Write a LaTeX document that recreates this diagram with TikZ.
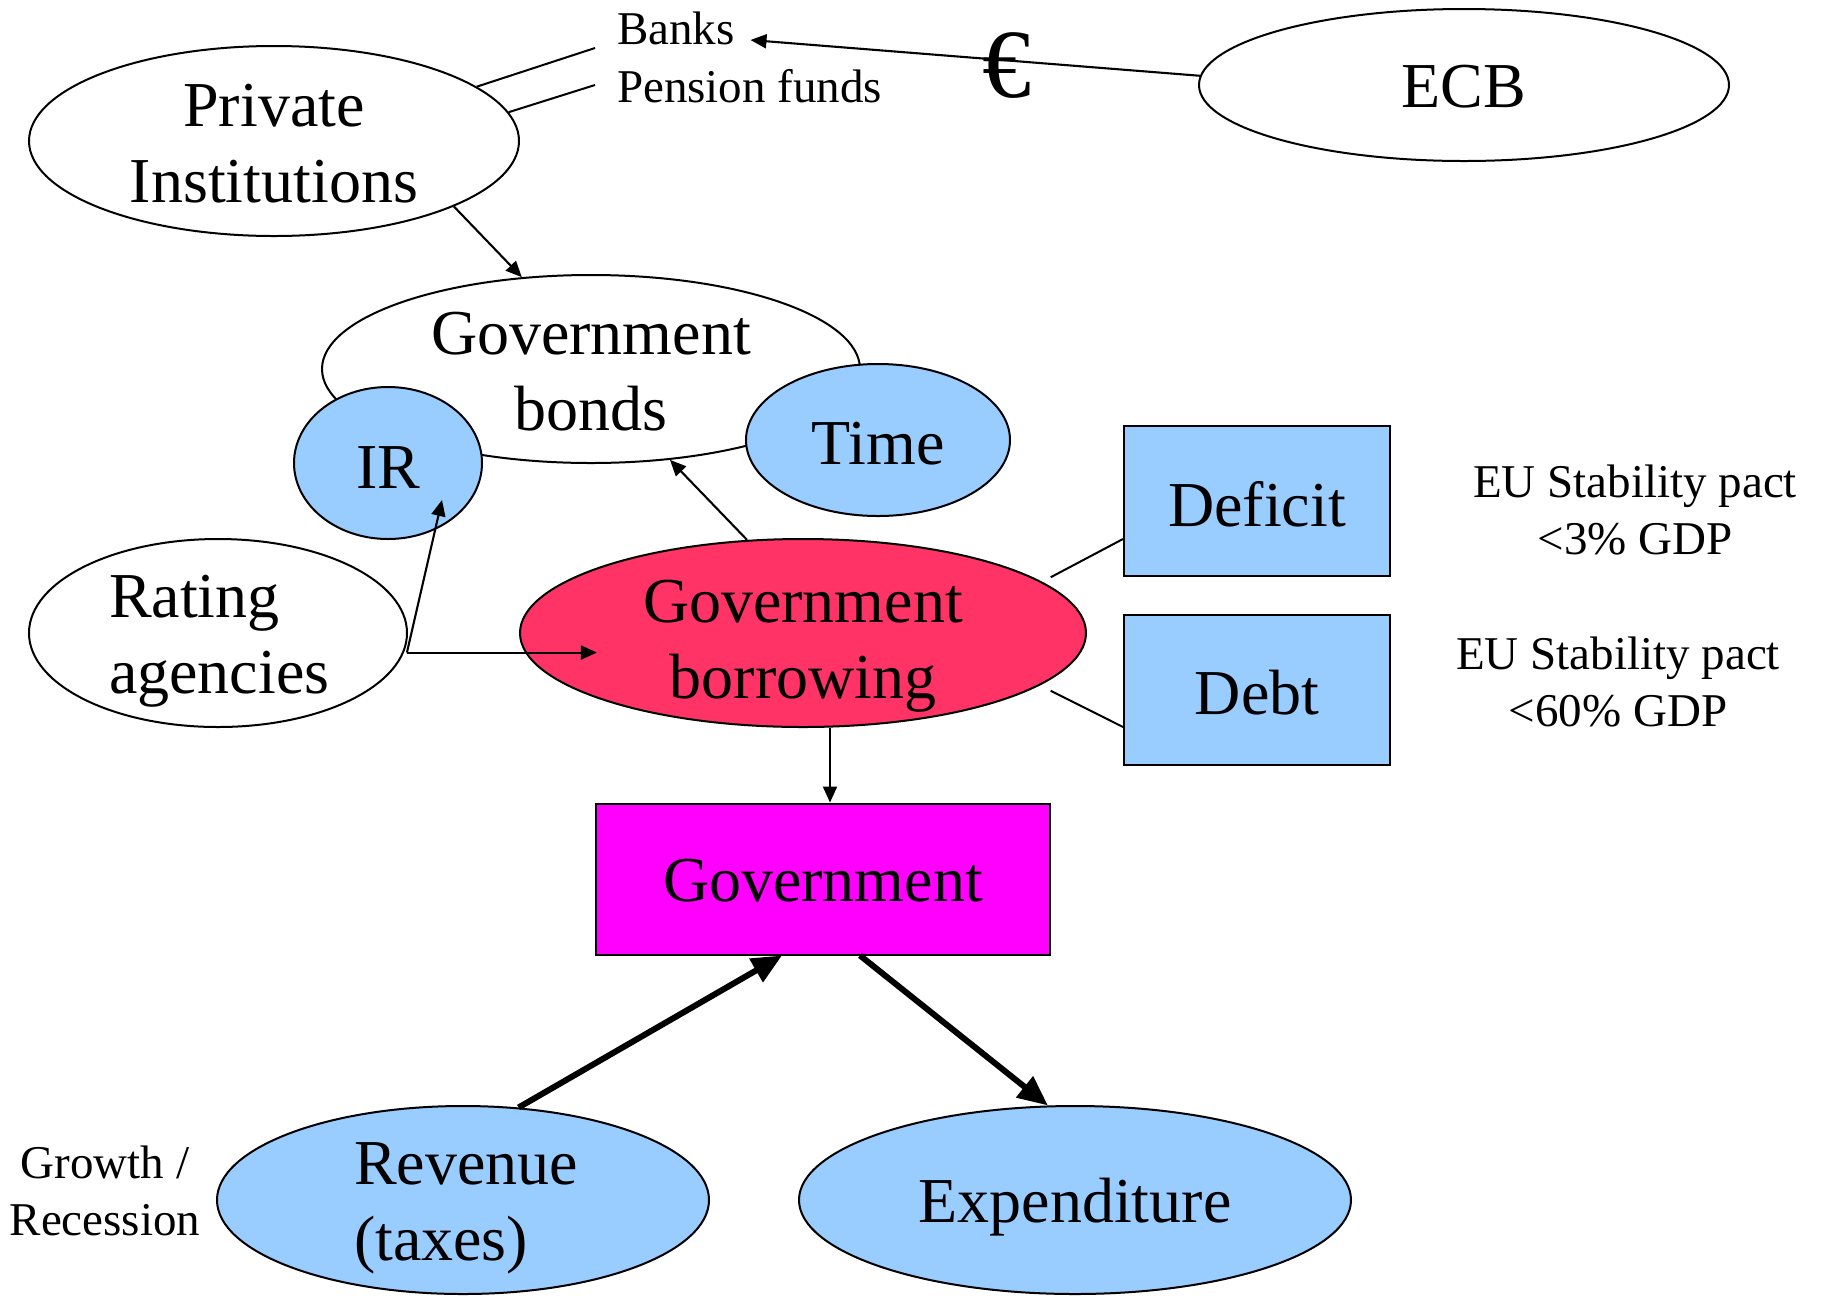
\documentclass[tikz,border=0pt]{standalone}
\usepackage{fontspec}
\setmainfont{Liberation Serif}
\usetikzlibrary{shapes.geometric,arrows.meta,calc}
\definecolor{lblue}{RGB}{153,204,255}
\definecolor{gred}{RGB}{255,51,102}
\definecolor{gmag}{RGB}{255,0,255}
\begin{document}
\begin{tikzpicture}[x=1bp, y=-1bp, line width=2bp,
  oval/.style={ellipse, draw, line width=2bp, inner sep=0pt},
  rbox/.style={rectangle, draw, line width=2bp, inner sep=0pt},
  big/.style={font=\fontsize{64bp}{76bp}\selectfont, inner sep=0pt, align=center},
  small/.style={font=\fontsize{47bp}{57bp}\selectfont, inner sep=0pt, align=center},
  arr/.style={-{Triangle[length=16bp,width=14bp]}, line width=2.1bp},
  bigarr/.style={-{Triangle[length=30bp,width=26bp]}, line width=6bp}]
\useasboundingbox (0,0) rectangle (1825,1297);

% nodes
\node[oval, minimum width=490bp, minimum height=190bp] (priv) at (274,141) {};
\node[big] (privt) at (274,144) {Private\\Institutions};
\node[small, anchor=base west] (banks) at (616,44) {Banks};
\node[small, anchor=base west] (pension) at (616,102) {Pension funds};
\node[oval, minimum width=530bp, minimum height=152bp] (ecb) at (1464,85) {};
\node[big] (ecbt) at (1464,87) {ECB};
\node[font=\fontsize{98bp}{98bp}\selectfont, inner sep=0pt] (euro) at (1007,66) {€};

\node[oval, minimum width=538bp, minimum height=188bp] (gbonds) at (591,369) {};
\node[big] (gbondst) at (591,372) {Government\\bonds};
\node[oval, fill=lblue, minimum width=188bp, minimum height=152bp] (ir) at (388,463) {};
\node[big] (irt) at (388,468) {IR};
\node[oval, fill=lblue, minimum width=264bp, minimum height=152bp] (time) at (878,440) {};
\node[big] (timet) at (878,444) {Time};

\node[oval, minimum width=378bp, minimum height=188bp] (rating) at (218,633) {};
\node[big, align=left, anchor=west] (ratingt) at (108,641) {Rating\\agencies};
\node[oval, fill=gred, minimum width=566bp, minimum height=188bp] (gborrow) at (803,633) {};
\node[big] (gborrowt) at (803,646) {Government\\borrowing};

\node[rbox, fill=lblue, minimum width=266bp, minimum height=150bp] (deficit) at (1257,501) {};
\node[big] (deficitt) at (1257,504) {Deficit};
\node[rbox, fill=lblue, minimum width=266bp, minimum height=150bp] (debt) at (1257,690) {};
\node[big] (debtt) at (1257,693) {Debt};
\node[small] (eu1) at (1635,510) {EU Stability pact\\<3\% GDP};
\node[small] (eu2) at (1618,682) {EU Stability pact\\<60\% GDP};

\node[rbox, fill=gmag, minimum width=454bp, minimum height=151bp] (gov) at (823,879) {};
\node[big] (govt) at (823,881) {Government};

\node[oval, fill=lblue, minimum width=492bp, minimum height=188bp] (rev) at (463,1200) {};
\node[big, align=left, anchor=west] (revt) at (353,1208) {Revenue\\(taxes)};
\node[oval, fill=lblue, minimum width=552bp, minimum height=188bp] (exp) at (1075,1200) {};
\node[big] (expt) at (1075,1207) {Expenditure};
\node[small] (growth) at (105,1191) {Growth /\\Recession};

% connectors
\draw[arr] (ecb.178) -- ($(banks.base east)+(15,-4)$);
\draw (priv.15) -- ($(banks.base west)+(-21,4)$);
\draw (priv.7) -- ($(pension.base west)+(-21,-17)$);
\draw[arr] (priv.-20) -- (gbonds.127);
\draw[arr] (gborrow.121) -- (gbonds.-49);
\coordinate (rsplit) at ($(rating.-6)+(3,0)$);
\coordinate (irin) at ($(ir.center)+(54,37)$);
\coordinate (gbin) at ($(rsplit)+(190,0)$);
\draw[arr] (rsplit) -- (irin);
\draw[arr] (rsplit) -- (gbin);
\draw[arr] ($(gborrow.south -| gov.north)+(7,0)$) -- ($(gov.north)+(7,0)$);
\draw ($(gborrow.14)+(20,1)$) -- ($(deficit.west)+(0,38)$);
\draw ($(gborrow.-14)+(20,1)$) -- ($(debt.west)+(0,37)$);
\draw[bigarr] (rev.59) -- ($(gov.south)+(-41,0)$);
\draw[bigarr] ($(gov.south)+(37,0)$) -- (exp.106);
\end{tikzpicture}
\end{document}
